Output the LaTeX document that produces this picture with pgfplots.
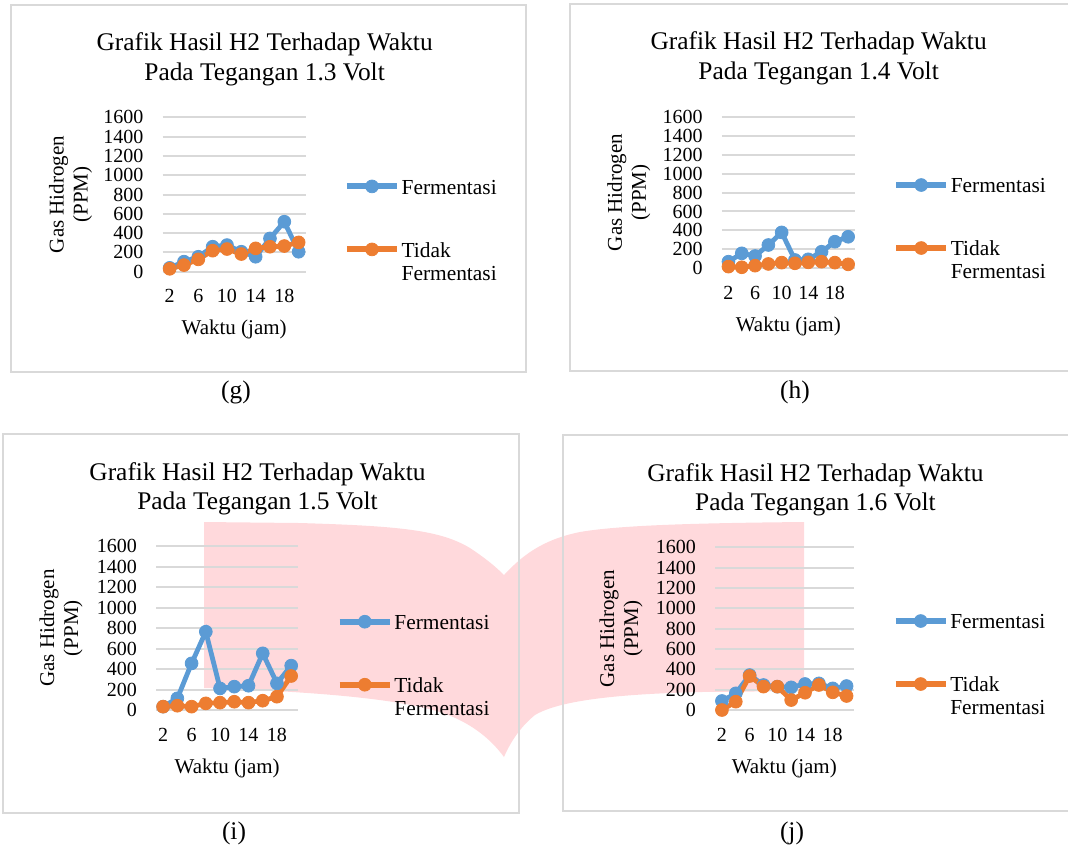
\documentclass[border=0pt]{standalone}
\usepackage{pgfplots}
\pgfplotsset{compat=1.18}
\usepackage{pgfplotstable}
\usepackage{fontspec}
\setmainfont{Liberation Serif}
\definecolor{exblue}{HTML}{5B9BD5}
\definecolor{exorange}{HTML}{ED7D31}
\definecolor{gridgray}{HTML}{D9D9D9}
\definecolor{boxgray}{HTML}{D9D9D9}
\definecolor{pinkfill}{HTML}{FFD9DC}

\pgfplotstableread{
x fer tid
2 40 30
4 104 69
6 155 128
8 259 218
10 276 235
12 207 183
14 155 242
16 345 259
18 518 266
20 207 304
}\datag
\pgfplotstableread{
x fer tid
2 70 18
4 158 11
6 130 28
8 246 46
10 379 60
12 88 53
14 95 63
16 175 70
18 281 60
20 333 42
}\datah
\pgfplotstableread{
x fer tid
2 33 33
4 114 42
6 455 33
8 764 65
10 211 72
12 228 81
14 237 72
16 553 91
18 260 130
20 433 332
}\datai
\pgfplotstableread{
x fer tid
2 89 0
4 164 82
6 344 334
8 246 230
10 230 230
12 223 98
14 256 170
16 262 246
18 213 174
20 236 138
}\dataj

\pgfplotsset{
  h2axis/.style n args={3}{
    scale only axis,
    xmin=1, xmax=21, ymin=0, ymax=1600,
    xtick={2,6,10,14,18},
    ytick={0,200,...,1600},
    axis line style={draw=none},
    tick style={draw=none},
    major tick length=0pt,
    ymajorgrids,
    major grid style={line width=1pt, draw=gridgray},
    /pgf/number format/assume math mode=true,
    /pgf/number format/1000 sep={},
    scaled y ticks=false,
    tick label style={font=\fontsize{10}{11}\selectfont},
    yticklabel style={anchor=east, inner sep=0pt, xshift=-9.4pt},
    xticklabel style={anchor=north, inner sep=0pt, yshift=-8.7pt},
    xlabel={Waktu (jam)},
    xlabel style={at={(axis description cs:0.5,0)}, anchor=base, yshift=-31.5pt, inner sep=0pt, font=\fontsize{10.5}{12}\selectfont},
    ylabel={Gas Hidrogen\\(PPM)},
    ylabel style={at={([xshift=#1]axis description cs:0,0.5)}, anchor=south, inner sep=0pt, align=center, font=\fontsize{10.5}{12}\selectfont},
    clip=false,
    legend image code/.code={\draw[mark repeat=2,mark phase=2,##1,line width=3pt] plot coordinates {(0pt,3.8pt) (12.6pt,3.8pt) (25.2pt,3.8pt)};},
    legend style={at={(axis description cs:0,0)}, anchor=north west, xshift=#2, yshift=#3, draw=none, fill=none, inner sep=0pt, outer sep=0pt, row sep=0pt, font=\fontsize{10.7}{12}\selectfont, cells={anchor=base west}, nodes={inner sep=0pt, outer sep=0pt, text height=7.5pt}, /tikz/every odd column/.append style={column sep=0.7pt}},
  },
  fer/.style={draw=exblue, line width=2.4pt, mark=*, mark size=3.2pt, mark options={fill=exblue, draw=exblue, line width=0.4pt, solid}},
  tid/.style={draw=exorange, line width=2.4pt, mark=*, mark size=3.2pt, mark options={fill=exorange, draw=exorange, line width=0.4pt, solid}},
}

\begin{document}
\begin{tikzpicture}
\path[use as bounding box] (0,0) rectangle (534pt,-424pt);
\begin{scope}[x=0.5pt,y=-0.5pt]
  % pink decorative shape
  \fill[pinkfill] (204,522) -- (300,523) .. controls (400,526) and (440,530) .. (470,548)
     .. controls (485,558) and (495,566) .. (504,575)
     .. controls (520,558) and (540,540) .. (580,532)
     .. controls (620,525) and (700,523) .. (804,522)
     -- (804,691) -- (700,692)
     .. controls (620,694) and (560,700) .. (535,715)
     .. controls (520,727) and (510,743) .. (504,757)
     .. controls (490,738) and (470,722) .. (440,712)
     .. controls (400,700) and (330,692) .. (204,688) -- cycle;
  % boxes
  \draw[boxgray, line width=1pt] (11.4,5) rectangle (526,372);
  \draw[boxgray, line width=1pt] (570.3,4) rectangle (1090,370.7);
  \draw[boxgray, line width=1pt] (3.4,434) rectangle (519,812.7);
  \draw[boxgray, line width=1pt] (563.3,435) rectangle (1090,811);
  % titles and captions
  \begin{scope}[every node/.style={font=\fontsize{12.7}{15}\selectfont, inner sep=0pt, anchor=base}]
    \node at (264.6,50) {Grafik Hasil H2 Terhadap Waktu};
    \node at (264.6,80) {Pada Tegangan 1.3 Volt};
    \node at (818.6,49.7) {Grafik Hasil H2 Terhadap Waktu};
    \node at (818.6,79) {Pada Tegangan 1.4 Volt};
    \node at (257.5,480) {Grafik Hasil H2 Terhadap Waktu};
    \node at (257.5,509) {Pada Tegangan 1.5 Volt};
    \node at (815.4,481) {Grafik Hasil H2 Terhadap Waktu};
    \node at (815.4,510) {Pada Tegangan 1.6 Volt};
    \node at (236,398) {(g)};
    \node at (795,398) {(h)};
    \node at (234,839) {(i)};
    \node at (792,839) {(j)};
  \end{scope}
\end{scope}

% (g)
\begin{axis}[h2axis={-35pt}{90.65pt}{46.35pt}, at={(81.25pt,-135.85pt)}, width=71.65pt, height=77.2pt]
  \addplot[fer] table[x=x,y=fer] {\datag};
  \addlegendentry[text depth=24pt]{Fermentasi}
  \addplot[tid] table[x=x,y=tid] {\datag};
  \addlegendentry[text depth=4pt]{Tidak}
  \addlegendimage{empty legend}
  \addlegendentry{Fermentasi}
\end{axis}

% (h)
\begin{axis}[h2axis={-35.5pt}{85.6pt}{45.35pt}, at={(360.9pt,-134.15pt)}, width=66.5pt, height=75.8pt]
  \addplot[fer] table[x=x,y=fer] {\datah};
  \addlegendentry[text depth=24pt]{Fermentasi}
  \addplot[tid] table[x=x,y=tid] {\datah};
  \addlegendentry[text depth=4pt]{Tidak}
  \addlegendimage{empty legend}
  \addlegendentry{Fermentasi}
\end{axis}

% (i)
\begin{axis}[h2axis={-36.5pt}{90.3pt}{47.85pt}, at={(78pt,-355pt)}, width=71.15pt, height=82pt]
  \addplot[fer] table[x=x,y=fer] {\datai};
  \addlegendentry[text depth=24pt]{Fermentasi}
  \addplot[tid] table[x=x,y=tid] {\datai};
  \addlegendentry[text depth=4pt]{Tidak}
  \addlegendimage{empty legend}
  \addlegendentry{Fermentasi}
\end{axis}

% (j)
\begin{axis}[h2axis={-36pt}{88.75pt}{48.2pt}, at={(357.5pt,-355pt)}, width=69.25pt, height=81.35pt]
  \addplot[fer] table[x=x,y=fer] {\dataj};
  \addlegendentry[text depth=24pt]{Fermentasi}
  \addplot[tid] table[x=x,y=tid] {\dataj};
  \addlegendentry[text depth=4pt]{Tidak}
  \addlegendimage{empty legend}
  \addlegendentry{Fermentasi}
\end{axis}
\end{tikzpicture}
\end{document}
